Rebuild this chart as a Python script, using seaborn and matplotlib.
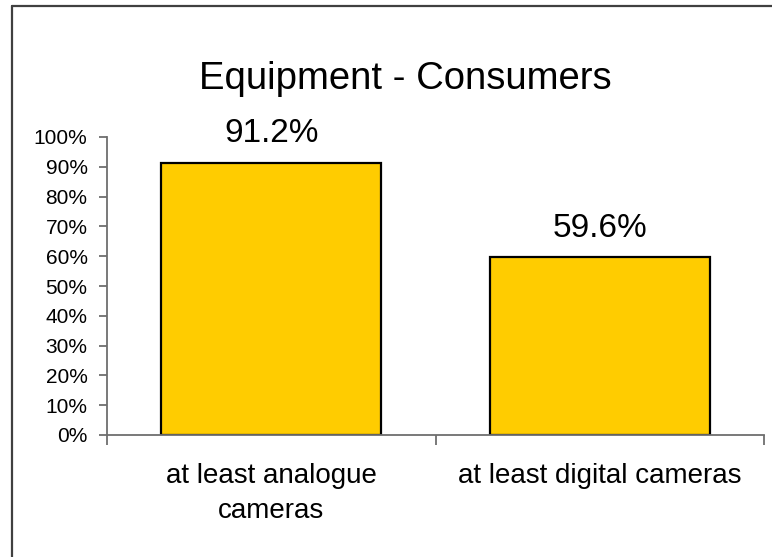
import matplotlib
matplotlib.use("Agg")
import matplotlib.pyplot as plt
from matplotlib.lines import Line2D
import seaborn as sns
import pandas as pd

# Share of consumers owning each type of camera equipment
categories = ["at least analogue cameras", "at least digital cameras"]
tick_labels = ["at least analogue\ncameras", "at least digital cameras"]
values = [91.2, 59.6]
y_ticks = [0, 10, 20, 30, 40, 50, 60, 70, 80, 90, 100]
title = "Equipment - Consumers"

sns.set_style("white")
plt.rcParams["font.family"] = ["Liberation Sans", "DejaVu Sans"]
plt.rcParams["text.color"] = "black"

df = pd.DataFrame({"category": categories, "share": values})

fig = plt.figure(figsize=(7.72, 5.57), dpi=100)
ax = fig.add_axes([107 / 772, 1 - 435 / 557, 657 / 772, 298 / 557])

sns.barplot(data=df, x="category", y="share", color="#FFCC00",
            edgecolor="black", linewidth=1.6, width=0.67, saturation=1,
            ax=ax)

ax.set_xlim(-0.5, 1.5)
ax.set_ylim(0, 100)
ax.set_xlabel("")
ax.set_ylabel("")

axis_color = "#6e6e6e"
for side in ("top", "right"):
    ax.spines[side].set_visible(False)
for side in ("left", "bottom"):
    ax.spines[side].set_color(axis_color)
    ax.spines[side].set_linewidth(1.3)

ax.set_yticks(y_ticks, [f"{t}%" for t in y_ticks])
ax.tick_params(axis="y", direction="out", length=6, width=1.3,
               color=axis_color, labelcolor="black", labelsize=15,
               pad=8, left=True)

ax.set_xticks([0, 1], tick_labels)
ax.tick_params(axis="x", which="major", length=0, labelsize=20, pad=20,
               labelcolor="black")
ax.set_xticks([-0.5, 0.5, 1.5], minor=True)
ax.tick_params(axis="x", which="minor", direction="out", length=7,
               width=1.3, color=axis_color, bottom=True)
for lbl in ax.get_xticklabels():
    lbl.set_linespacing(1.45)

# value labels above the bars
for i, v in enumerate(values):
    ax.annotate(f"{v:.1f}%", xy=(i, v), xytext=(0, 10),
                textcoords="offset points", ha="center", va="bottom",
                fontsize=24, color="black")

fig.text(405 / 772, 1 - 79 / 557, title, ha="center", va="center",
         fontsize=27.5, color="black")

# chart area frame along the left and top edges
frame_color = "#404040"
fig.add_artist(Line2D([12 / 772, 12 / 772], [0, 1 - 6 / 557],
                      transform=fig.transFigure, color=frame_color, lw=1.6))
fig.add_artist(Line2D([12 / 772, 1], [1 - 6 / 557, 1 - 6 / 557],
                      transform=fig.transFigure, color=frame_color, lw=1.6))

fig.savefig("out.png", dpi=100)
